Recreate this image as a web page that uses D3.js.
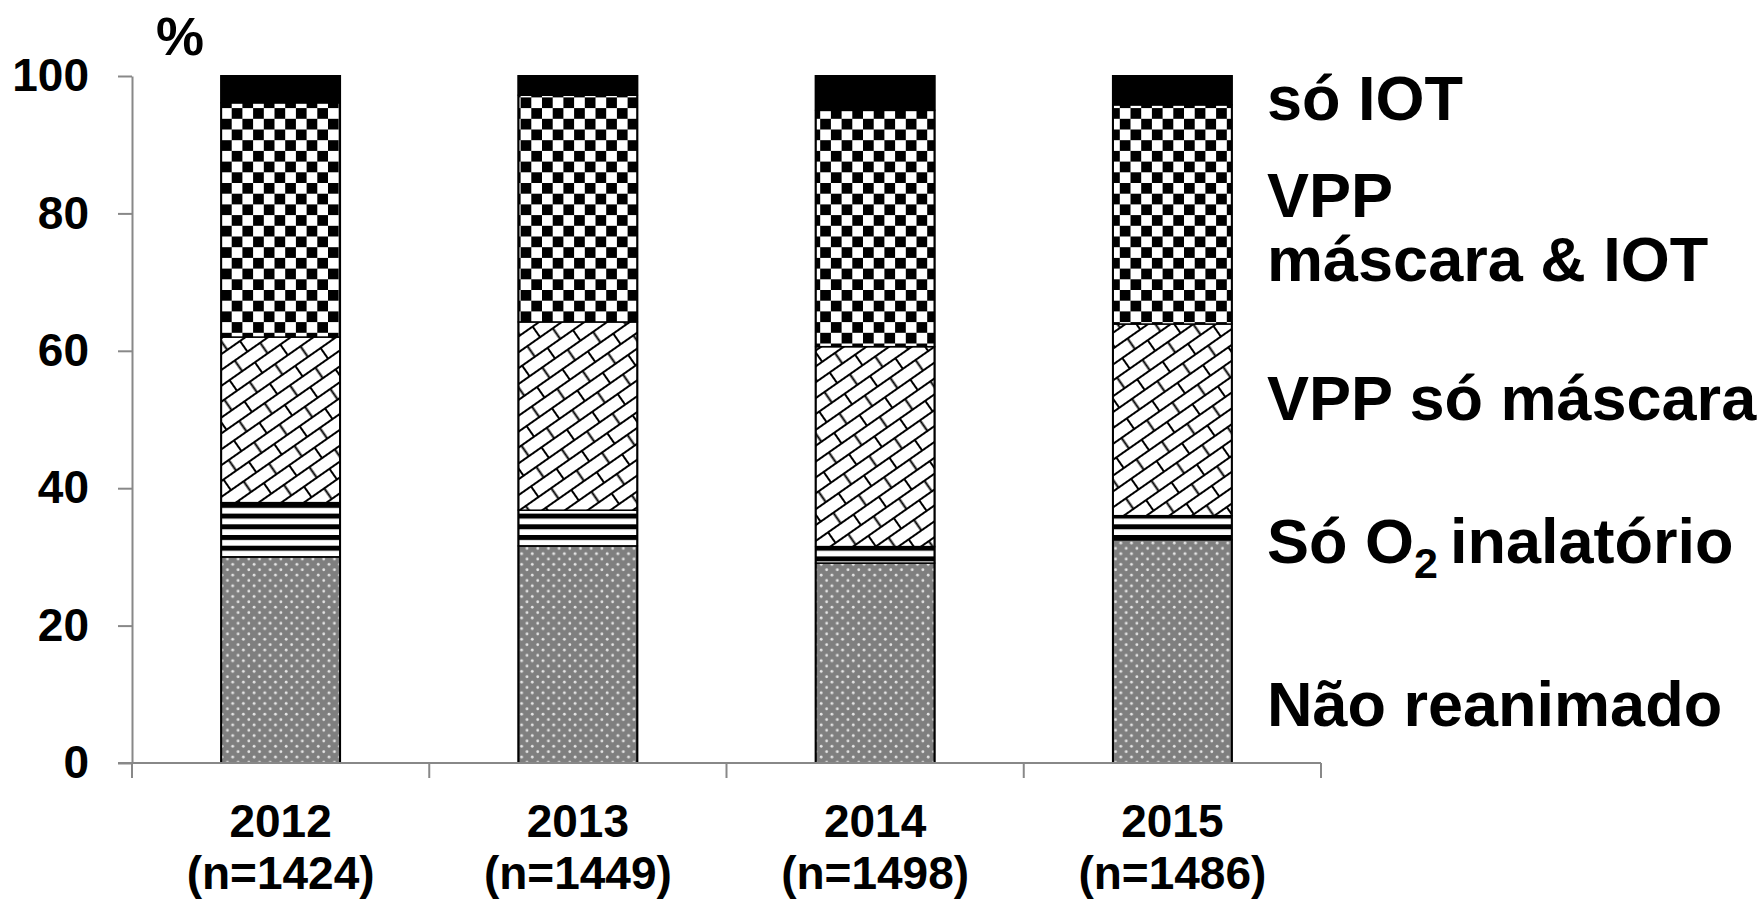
<!DOCTYPE html>
<html>
<head>
<meta charset="utf-8">
<script src="https://cdn.jsdelivr.net/npm/d3@7"></script>
<style>
  body { margin: 0; background: white; }
  text { font-family: "Liberation Sans", Arial, sans-serif; font-weight: bold; fill: #000; }
</style>
</head>
<body>
<div id="root"></div>
<script>
const years = ["2012", "2013", "2014", "2015"];
const sampleSizes = ["(n=1424)", "(n=1449)", "(n=1498)", "(n=1486)"];

const naoReanimado = [30.0, 31.6, 29.1, 32.5];
const soO2 = [7.9, 5.2, 2.4, 3.5];
const vppMascara = [24.1, 27.4, 29.1, 27.9];
const vppMascaraIot = [34.1, 33.0, 34.4, 31.9];
const soIot = [3.9, 2.8, 5.0, 4.2];

const seriesKeys = ["naoReanimado", "soO2", "vppMascara", "vppMascaraIot", "soIot"];
const yTicks = [0, 20, 40, 60, 80, 100];

const CONFIG = {
  width: 1763,
  height: 900,
  plot: { left: 132, right: 1321, top: 76, bottom: 763 },
  axisColor: "#888888",
  fills: {
    naoReanimado: "url(#dots)",
    soO2: "url(#stripes)",
    vppMascara: "url(#brick)",
    vppMascaraIot: "url(#checker)",
    soIot: "#000000"
  }
};

function initSVG() {
  return d3.select("#root")
    .append("svg")
    .attr("width", CONFIG.width)
    .attr("height", CONFIG.height);
}

function patterns(svg) {
  const defs = svg.append("defs");

  // gray with small white dots
  const dots = defs.append("pattern")
    .attr("id", "dots")
    .attr("patternUnits", "userSpaceOnUse")
    .attr("width", 10.7).attr("height", 10.7);
  dots.append("rect").attr("width", 10.7).attr("height", 10.7).attr("fill", "#7f7f7f");
  dots.append("circle").attr("cx", 2.7).attr("cy", 2.7).attr("r", 1.4).attr("fill", "#e6e6e6");
  dots.append("circle").attr("cx", 8.0).attr("cy", 8.0).attr("r", 1.4).attr("fill", "#e6e6e6");

  // horizontal stripes
  const stripes = defs.append("pattern")
    .attr("id", "stripes")
    .attr("patternUnits", "userSpaceOnUse")
    .attr("width", 10).attr("height", 10.7);
  stripes.append("rect").attr("width", 10).attr("height", 10.7).attr("fill", "#fff");
  stripes.append("rect").attr("y", 0).attr("width", 10).attr("height", 5).attr("fill", "#000");

  // checkerboard
  const checker = defs.append("pattern")
    .attr("id", "checker")
    .attr("patternUnits", "userSpaceOnUse")
    .attr("x", 221).attr("y", 76)
    .attr("width", 21.4).attr("height", 21.4);
  checker.append("rect").attr("width", 21.4).attr("height", 21.4).attr("fill", "#fff");
  checker.append("rect").attr("width", 10.7).attr("height", 10.7).attr("fill", "#000");
  checker.append("rect").attr("x", 10.7).attr("y", 10.7).attr("width", 10.7).attr("height", 10.7).attr("fill", "#000");

  // diagonal brick
  const bw = 31, bh = 13;
  const brick = defs.append("pattern")
    .attr("id", "brick")
    .attr("patternUnits", "userSpaceOnUse")
    .attr("width", bw).attr("height", 2 * bh)
    .attr("patternTransform", "rotate(-35)");
  brick.append("rect").attr("width", bw).attr("height", 2 * bh).attr("fill", "#fff");
  const bp = brick.append("g").attr("stroke", "#000").attr("stroke-width", 2);
  bp.append("line").attr("x1", 0).attr("y1", 1).attr("x2", bw).attr("y2", 1);
  bp.append("line").attr("x1", 0).attr("y1", bh + 1).attr("x2", bw).attr("y2", bh + 1);
  bp.append("line").attr("x1", 1).attr("y1", 1).attr("x2", 1).attr("y2", bh + 1);
  bp.append("line").attr("x1", bw / 2 + 1).attr("y1", bh + 1).attr("x2", bw / 2 + 1).attr("y2", 2 * bh + 1);
}

function createScales() {
  const { left, right, top, bottom } = CONFIG.plot;
  const xScale = d3.scaleBand()
    .domain(years)
    .range([left, right])
    .paddingInner(0.6)
    .paddingOuter(0.3);
  const yScale = d3.scaleLinear()
    .domain([0, 100])
    .range([bottom, top]);
  return { xScale, yScale };
}

function bars(svg, xScale, yScale) {
  const table = years.map((year, i) => ({
    year,
    naoReanimado: naoReanimado[i],
    soO2: soO2[i],
    vppMascara: vppMascara[i],
    vppMascaraIot: vppMascaraIot[i],
    soIot: soIot[i]
  }));
  const stacked = d3.stack().keys(seriesKeys)(table);

  svg.append("g")
    .selectAll("g")
    .data(stacked)
    .enter()
    .append("g")
    .attr("fill", d => CONFIG.fills[d.key])
    .selectAll("rect")
    .data(d => d)
    .enter()
    .append("rect")
    .attr("x", d => xScale(d.data.year))
    .attr("y", d => yScale(d[1]))
    .attr("width", xScale.bandwidth())
    .attr("height", d => yScale(d[0]) - yScale(d[1]))
    .attr("stroke", "#000")
    .attr("stroke-width", 1.5);

  // outer outline of each bar
  svg.append("g")
    .selectAll("rect")
    .data(table)
    .enter()
    .append("rect")
    .attr("x", d => xScale(d.year))
    .attr("y", yScale(100))
    .attr("width", xScale.bandwidth())
    .attr("height", yScale(0) - yScale(100))
    .attr("fill", "none")
    .attr("stroke", "#000")
    .attr("stroke-width", 2);
}

function axes(svg, xScale, yScale) {
  const { left, right, bottom } = CONFIG.plot;

  const yAxis = svg.append("g")
    .attr("transform", `translate(${left},0)`)
    .call(d3.axisLeft(yScale).tickValues(yTicks).tickSize(14).tickSizeOuter(0).tickPadding(29));
  yAxis.selectAll("path, line").attr("stroke", CONFIG.axisColor).attr("stroke-width", 2);
  yAxis.selectAll("text").attr("font-size", 46).attr("font-family", null);

  // x axis line and boundary ticks
  const xg = svg.append("g");
  xg.append("line")
    .attr("x1", left - 14).attr("x2", right)
    .attr("y1", bottom).attr("y2", bottom)
    .attr("stroke", CONFIG.axisColor).attr("stroke-width", 2);
  const bounds = d3.range(years.length + 1).map(i => left + i * xScale.step());
  xg.selectAll(".btick")
    .data(bounds)
    .enter()
    .append("line")
    .attr("x1", d => d).attr("x2", d => d)
    .attr("y1", bottom).attr("y2", bottom + 15)
    .attr("stroke", CONFIG.axisColor).attr("stroke-width", 2);

  const labels = xg.selectAll(".xlabel")
    .data(years)
    .enter()
    .append("text")
    .attr("text-anchor", "middle")
    .attr("font-size", 46)
    .attr("x", d => xScale(d) + xScale.bandwidth() / 2)
    .attr("y", bottom + 74);
  labels.append("tspan").text(d => d);
  labels.append("tspan")
    .attr("x", d => xScale(d) + xScale.bandwidth() / 2)
    .attr("dy", 52)
    .text((d, i) => sampleSizes[i]);

  svg.append("text")
    .attr("x", 156)
    .attr("y", 55)
    .attr("font-size", 54)
    .text("%");
}

function seriesLabels(svg, yScale) {
  const x = 1267;
  const size = 63;
  const add = (value, txt) => svg.append("text")
    .attr("x", x)
    .attr("y", yScale(value))
    .attr("font-size", size)
    .text(txt);

  add(93.6, "só IOT");
  add(79.5, "VPP");
  add(70.2, "máscara & IOT");
  add(49.9, "VPP só máscara");

  const o2 = svg.append("text")
    .attr("x", x)
    .attr("y", yScale(29.1))
    .attr("font-size", size);
  o2.append("tspan").text("Só O");
  o2.append("tspan").attr("font-size", 43).attr("dy", 15).text("2 ");
  o2.append("tspan").attr("dy", -15).text("inalatório");

  add(5.4, "Não reanimado");
}

function createChart() {
  const svg = initSVG();
  patterns(svg);
  const { xScale, yScale } = createScales();
  bars(svg, xScale, yScale);
  axes(svg, xScale, yScale);
  seriesLabels(svg, yScale);
}

createChart();
</script>
</body>
</html>
